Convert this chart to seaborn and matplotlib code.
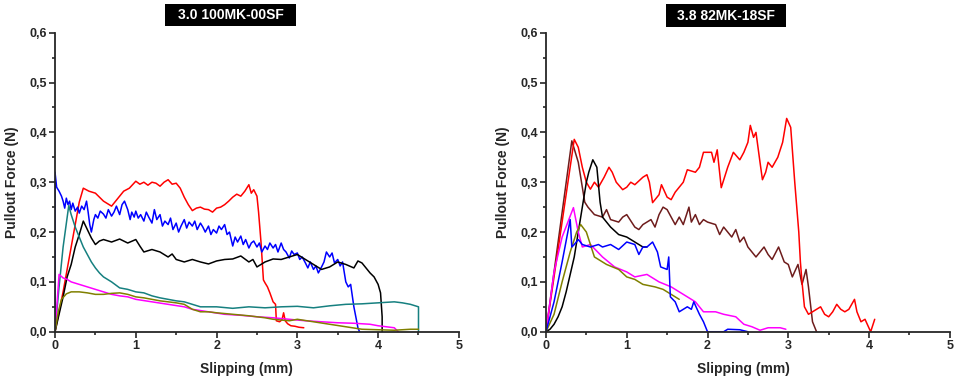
import numpy as np
import pandas as pd
import matplotlib
matplotlib.use("Agg")
import matplotlib.pyplot as plt
import seaborn as sns
from matplotlib.patches import Rectangle
from matplotlib.ticker import MultipleLocator, FuncFormatter

# ---- left panel: 3.0 100MK-00SF ----
red_a_x = [0, 0.1, 0.2, 0.3, 0.35, 0.42, 0.5, 0.6, 0.7, 0.78, 0.85, 0.92, 1.0, 1.05, 1.1, 1.15, 1.2, 1.25, 1.3, 1.35, 1.4, 1.45, 1.5, 1.55, 1.6, 1.65, 1.7, 1.75, 1.8, 1.85, 1.9, 1.95, 2.0, 2.05, 2.1, 2.15, 2.2, 2.25, 2.3, 2.35, 2.4, 2.43, 2.46, 2.5, 2.52, 2.55, 2.58, 2.6, 2.63, 2.66, 2.7, 2.73, 2.74, 2.78, 2.81, 2.83, 2.85, 2.88, 2.92, 2.97, 3.02, 3.08]
red_a_y = [0, 0.08, 0.17, 0.26, 0.288, 0.282, 0.278, 0.262, 0.252, 0.268, 0.282, 0.288, 0.302, 0.296, 0.300, 0.294, 0.300, 0.298, 0.292, 0.300, 0.305, 0.296, 0.298, 0.288, 0.270, 0.255, 0.243, 0.248, 0.250, 0.246, 0.245, 0.240, 0.248, 0.250, 0.255, 0.262, 0.270, 0.276, 0.272, 0.282, 0.295, 0.278, 0.285, 0.272, 0.240, 0.180, 0.104, 0.098, 0.090, 0.078, 0.060, 0.055, 0.022, 0.020, 0.024, 0.038, 0.022, 0.016, 0.012, 0.011, 0.009, 0.008]

blue_a_x = [0, 0.0, 0.02, 0.05, 0.08, 0.1, 0.12, 0.14, 0.16, 0.18, 0.2, 0.22, 0.25, 0.28, 0.3, 0.33, 0.36, 0.39, 0.41, 0.43, 0.45, 0.48, 0.5, 0.53, 0.56, 0.6, 0.63, 0.66, 0.7, 0.73, 0.76, 0.8, 0.83, 0.86, 0.9, 0.93, 0.95, 0.98, 1.0, 1.03, 1.06, 1.1, 1.13, 1.16, 1.2, 1.23, 1.26, 1.3, 1.33, 1.36, 1.4, 1.43, 1.46, 1.5, 1.53, 1.56, 1.6, 1.63, 1.66, 1.7, 1.73, 1.76, 1.8, 1.83, 1.86, 1.9, 1.93, 1.96, 2.0, 2.03, 2.06, 2.1, 2.13, 2.16, 2.2, 2.23, 2.26, 2.3, 2.33, 2.36, 2.4, 2.43, 2.46, 2.5, 2.53, 2.56, 2.6, 2.63, 2.66, 2.7, 2.73, 2.76, 2.8, 2.83, 2.86, 2.9, 2.93, 2.96, 3.0, 3.03, 3.06, 3.1, 3.13, 3.16, 3.2, 3.23, 3.26, 3.3, 3.33, 3.36, 3.4, 3.43, 3.46, 3.5, 3.53, 3.56, 3.6, 3.63, 3.66, 3.7, 3.73, 3.75, 3.77]
blue_a_y = [0, 0.320, 0.290, 0.282, 0.272, 0.262, 0.248, 0.268, 0.255, 0.262, 0.245, 0.258, 0.242, 0.250, 0.238, 0.252, 0.245, 0.262, 0.240, 0.215, 0.200, 0.225, 0.235, 0.228, 0.242, 0.236, 0.228, 0.245, 0.232, 0.240, 0.252, 0.235, 0.255, 0.262, 0.245, 0.225, 0.240, 0.230, 0.242, 0.228, 0.235, 0.222, 0.240, 0.230, 0.218, 0.245, 0.225, 0.235, 0.212, 0.222, 0.215, 0.228, 0.205, 0.218, 0.200, 0.212, 0.225, 0.208, 0.220, 0.212, 0.222, 0.205, 0.218, 0.210, 0.200, 0.212, 0.195, 0.205, 0.198, 0.212, 0.205, 0.215, 0.195, 0.200, 0.172, 0.190, 0.180, 0.192, 0.175, 0.185, 0.168, 0.178, 0.182, 0.170, 0.178, 0.160, 0.172, 0.165, 0.178, 0.168, 0.175, 0.160, 0.178, 0.165, 0.160, 0.148, 0.162, 0.155, 0.158, 0.145, 0.150, 0.138, 0.128, 0.140, 0.125, 0.132, 0.118, 0.130, 0.140, 0.160, 0.150, 0.158, 0.138, 0.145, 0.132, 0.140, 0.100, 0.090, 0.095, 0.050, 0.025, 0.008, 0.0]

black_a_x = [0, 0.05, 0.1, 0.15, 0.2, 0.25, 0.3, 0.35, 0.4, 0.45, 0.5, 0.55, 0.6, 0.7, 0.8, 0.9, 1.0, 1.05, 1.1, 1.2, 1.3, 1.4, 1.45, 1.5, 1.6, 1.7, 1.8, 1.9, 2.0, 2.1, 2.2, 2.3, 2.4, 2.45, 2.5, 2.6, 2.7, 2.8, 2.9, 3.0, 3.1, 3.2, 3.3, 3.4, 3.5, 3.6, 3.7, 3.75, 3.8, 3.85, 3.9, 3.95, 4.0, 4.03, 4.05, 4.05]
black_a_y = [0, 0.035, 0.07, 0.11, 0.135, 0.170, 0.195, 0.222, 0.205, 0.188, 0.175, 0.182, 0.185, 0.180, 0.186, 0.178, 0.185, 0.172, 0.160, 0.165, 0.160, 0.150, 0.156, 0.145, 0.140, 0.145, 0.140, 0.136, 0.142, 0.145, 0.146, 0.152, 0.140, 0.145, 0.130, 0.140, 0.146, 0.145, 0.150, 0.155, 0.145, 0.135, 0.125, 0.130, 0.140, 0.135, 0.128, 0.142, 0.138, 0.128, 0.118, 0.110, 0.095, 0.078, 0.03, 0.0]

teal_a_x = [0, 0.05, 0.1, 0.17, 0.2, 0.25, 0.3, 0.35, 0.4, 0.45, 0.5, 0.55, 0.6, 0.7, 0.8, 0.9, 1.0, 1.1, 1.2, 1.3, 1.4, 1.5, 1.6, 1.7, 1.8, 2.0, 2.2, 2.4, 2.6, 2.8, 3.0, 3.2, 3.4, 3.6, 3.8, 4.0, 4.2, 4.3, 4.4, 4.5, 4.5]
teal_a_y = [0, 0.09, 0.17, 0.253, 0.235, 0.210, 0.190, 0.170, 0.155, 0.140, 0.128, 0.118, 0.110, 0.100, 0.088, 0.085, 0.080, 0.078, 0.072, 0.068, 0.065, 0.062, 0.060, 0.055, 0.050, 0.050, 0.047, 0.050, 0.048, 0.050, 0.051, 0.048, 0.052, 0.055, 0.056, 0.058, 0.060, 0.058, 0.055, 0.050, 0.0]

magenta_a_x = [0, 0.05, 0.1, 0.15, 0.2, 0.3, 0.4, 0.5, 0.6, 0.7, 0.8, 0.9, 1.0, 1.2, 1.4, 1.6, 1.7, 1.9, 2.1, 2.3, 2.5, 2.7, 2.9, 3.1, 3.3, 3.5, 3.7, 3.9, 4.0, 4.1, 4.2, 4.25]
magenta_a_y = [0, 0.115, 0.108, 0.105, 0.100, 0.095, 0.090, 0.085, 0.080, 0.075, 0.072, 0.070, 0.065, 0.060, 0.055, 0.050, 0.045, 0.040, 0.035, 0.033, 0.030, 0.028, 0.025, 0.022, 0.020, 0.018, 0.017, 0.015, 0.012, 0.010, 0.008, 0.0]

olive_a_x = [0, 0.04, 0.08, 0.14, 0.2, 0.3, 0.4, 0.5, 0.6, 0.7, 0.8, 0.9, 1.0, 1.1, 1.2, 1.3, 1.4, 1.5, 1.6, 1.7, 1.8, 1.9, 2.0, 2.2, 2.4, 2.5, 2.6, 2.7, 2.9, 3.0, 3.2, 3.4, 3.6, 3.8, 4.0, 4.2, 4.4, 4.5]
olive_a_y = [0, 0.040, 0.065, 0.076, 0.080, 0.080, 0.078, 0.075, 0.075, 0.077, 0.078, 0.075, 0.070, 0.068, 0.065, 0.062, 0.060, 0.058, 0.055, 0.045, 0.040, 0.040, 0.038, 0.035, 0.032, 0.030, 0.028, 0.025, 0.022, 0.025, 0.020, 0.015, 0.010, 0.005, 0.004, 0.003, 0.005, 0.005]

# ---- right panel: 3.8 82MK-18SF ----
red_b_x = [0, 0.35, 0.4, 0.45, 0.5, 0.55, 0.6, 0.65, 0.72, 0.78, 0.82, 0.87, 0.95, 1.0, 1.05, 1.1, 1.2, 1.25, 1.28, 1.32, 1.4, 1.43, 1.5, 1.55, 1.6, 1.7, 1.75, 1.85, 1.9, 1.95, 2.05, 2.08, 2.12, 2.17, 2.25, 2.32, 2.4, 2.45, 2.5, 2.53, 2.57, 2.6, 2.65, 2.68, 2.72, 2.75, 2.8, 2.87, 2.93, 2.98, 3.03, 3.08, 3.13, 3.15, 3.17, 3.2, 3.25, 3.3, 3.35, 3.4, 3.45, 3.5, 3.55, 3.6, 3.65, 3.7, 3.75, 3.82, 3.85, 3.9, 3.95, 4.02, 4.07]
red_b_y = [0, 0.386, 0.370, 0.330, 0.300, 0.286, 0.300, 0.290, 0.310, 0.330, 0.320, 0.300, 0.285, 0.290, 0.300, 0.295, 0.310, 0.315, 0.300, 0.259, 0.275, 0.295, 0.270, 0.265, 0.280, 0.300, 0.325, 0.320, 0.330, 0.360, 0.360, 0.340, 0.365, 0.289, 0.330, 0.360, 0.345, 0.360, 0.380, 0.414, 0.390, 0.400, 0.340, 0.305, 0.320, 0.340, 0.330, 0.350, 0.380, 0.428, 0.410, 0.300, 0.200, 0.140, 0.100, 0.050, 0.035, 0.040, 0.045, 0.050, 0.035, 0.030, 0.040, 0.055, 0.045, 0.040, 0.045, 0.065, 0.040, 0.020, 0.025, 0.0, 0.025]

brown_b_x = [0, 0.32, 0.4, 0.48, 0.52, 0.6, 0.7, 0.75, 0.8, 0.9, 0.95, 1.0, 1.1, 1.15, 1.2, 1.3, 1.35, 1.4, 1.45, 1.5, 1.6, 1.65, 1.7, 1.77, 1.8, 1.85, 1.9, 1.95, 2.0, 2.1, 2.15, 2.2, 2.3, 2.35, 2.4, 2.45, 2.5, 2.6, 2.7, 2.75, 2.8, 2.88, 2.95, 3.0, 3.05, 3.12, 3.17, 3.22, 3.25, 3.3, 3.35]
brown_b_y = [0, 0.383, 0.340, 0.260, 0.250, 0.235, 0.230, 0.245, 0.225, 0.220, 0.230, 0.235, 0.210, 0.205, 0.215, 0.225, 0.210, 0.235, 0.250, 0.245, 0.215, 0.230, 0.215, 0.250, 0.220, 0.235, 0.215, 0.225, 0.220, 0.215, 0.195, 0.210, 0.190, 0.205, 0.180, 0.190, 0.170, 0.150, 0.170, 0.155, 0.145, 0.170, 0.140, 0.135, 0.110, 0.135, 0.095, 0.125, 0.090, 0.020, 0.0]

black_b_x = [0, 0.05, 0.1, 0.15, 0.2, 0.25, 0.3, 0.35, 0.4, 0.45, 0.5, 0.53, 0.58, 0.63, 0.67, 0.7, 0.8, 0.9, 1.0, 1.1, 1.2, 1.25]
black_b_y = [0, 0.005, 0.015, 0.030, 0.050, 0.080, 0.115, 0.150, 0.200, 0.250, 0.300, 0.320, 0.345, 0.330, 0.260, 0.230, 0.210, 0.195, 0.190, 0.180, 0.170, 0.170]

blue_b_x = [0, 0.1, 0.2, 0.3, 0.32, 0.35, 0.4, 0.45, 0.55, 0.65, 0.7, 0.8, 0.9, 1.0, 1.1, 1.15, 1.2, 1.25, 1.32, 1.38, 1.42, 1.5, 1.52, 1.54, 1.6, 1.65, 1.75, 1.8, 1.83, 1.9, 1.95, 2.0, 2.2, 2.25, 2.4, 2.5]
blue_b_y = [0, 0.060, 0.140, 0.225, 0.170, 0.175, 0.185, 0.175, 0.170, 0.175, 0.170, 0.175, 0.165, 0.180, 0.175, 0.155, 0.170, 0.170, 0.180, 0.160, 0.130, 0.125, 0.150, 0.070, 0.060, 0.040, 0.050, 0.045, 0.060, 0.035, 0.020, 0.0, 0.0, 0.005, 0.004, 0.0]

magenta_b_x = [0, 0.1, 0.2, 0.34, 0.4, 0.45, 0.55, 0.7, 0.85, 1.0, 1.1, 1.25, 1.4, 1.55, 1.65, 1.75, 1.85, 1.95, 2.1, 2.2, 2.35, 2.45, 2.55, 2.65, 2.75, 2.9, 2.97]
magenta_b_y = [0, 0.120, 0.190, 0.249, 0.200, 0.170, 0.175, 0.150, 0.130, 0.120, 0.110, 0.115, 0.100, 0.090, 0.080, 0.070, 0.060, 0.040, 0.040, 0.035, 0.030, 0.015, 0.010, 0.003, 0.008, 0.008, 0.005]

olive_b_x = [0, 0.1, 0.2, 0.3, 0.38, 0.43, 0.5, 0.6, 0.75, 0.9, 1.0, 1.1, 1.2, 1.35, 1.45, 1.55, 1.65]
olive_b_y = [0, 0.035, 0.100, 0.160, 0.200, 0.215, 0.200, 0.150, 0.135, 0.125, 0.110, 0.105, 0.095, 0.090, 0.085, 0.075, 0.065]

panels = [
    ("3.0 100MK-00SF", [
        (red_a_x, red_a_y, "#ff0000"),
        (blue_a_x, blue_a_y, "#0000ff"),
        (black_a_x, black_a_y, "#000000"),
        (teal_a_x, teal_a_y, "#168080"),
        (magenta_a_x, magenta_a_y, "#ff00ff"),
        (olive_a_x, olive_a_y, "#808000"),
    ]),
    ("3.8 82MK-18SF", [
        (brown_b_x, brown_b_y, "#6e1c1c"),
        (red_b_x, red_b_y, "#ff0000"),
        (black_b_x, black_b_y, "#000000"),
        (magenta_b_x, magenta_b_y, "#ff00ff"),
        (olive_b_x, olive_b_y, "#808000"),
        (blue_b_x, blue_b_y, "#0000ff"),
    ]),
]

sns.set_style("ticks")
plt.rcParams['font.family'] = ['Liberation Sans', 'DejaVu Sans']
plt.rcParams['font.weight'] = 'bold'

W, H = 957, 380
fig = plt.figure(figsize=(W / 100, H / 100), dpi=100)
ax_lefts = [0.0575, 0.5705]
# title boxes in pixels: (left, top, width, height)
title_boxes = [(165, 4, 131, 22), (666, 4, 120, 23)]
xlabel_x = [0.475, 0.49]

comma = FuncFormatter(lambda v, p: f"{v:.1f}".replace(".", ","))

for i, (title, series) in enumerate(panels):
    ax = fig.add_axes([ax_lefts[i], 0.127, 0.422, 0.787])
    for xs, ys, col in series:
        df = pd.DataFrame({"x": xs, "y": ys})
        sns.lineplot(data=df, x="x", y="y", color=col, sort=False,
                     estimator=None, linewidth=1.1, ax=ax)
    ax.set_xlim(0, 5)
    ax.set_ylim(0, 0.6)
    ax.xaxis.set_major_locator(MultipleLocator(1))
    ax.xaxis.set_minor_locator(MultipleLocator(0.5))
    ax.yaxis.set_major_locator(MultipleLocator(0.1))
    ax.yaxis.set_minor_locator(MultipleLocator(0.05))
    ax.yaxis.set_major_formatter(comma)
    ax.tick_params(which='major', length=4, width=1.2, labelsize=9, pad=2)
    ax.tick_params(which='minor', length=2.5, width=1.2)
    for lab in ax.get_xticklabels() + ax.get_yticklabels():
        lab.set_fontweight('bold')
    sns.despine(ax=ax)
    for s in ('left', 'bottom'):
        ax.spines[s].set_linewidth(1.3)
    ax.set_xlabel("Slipping (mm)", fontsize=10, fontweight='bold', labelpad=8)
    ax.xaxis.set_label_coords(xlabel_x[i], -0.1)
    ax.xaxis.label.set_va('top')
    ax.set_ylabel("Pullout Force (N)", fontsize=10, fontweight='bold', labelpad=7)

    bx, by, bw, bh = title_boxes[i]
    fig.patches.append(Rectangle((bx / W, 1 - (by + bh) / H), bw / W, bh / H,
                                 transform=fig.transFigure, facecolor='black',
                                 edgecolor='none'))
    fig.text((bx + bw / 2) / W, 1 - (by + bh / 2) / H, title, ha='center',
             va='center', color='white', fontsize=10, fontweight='bold')

fig.savefig("out.png", dpi=100)
